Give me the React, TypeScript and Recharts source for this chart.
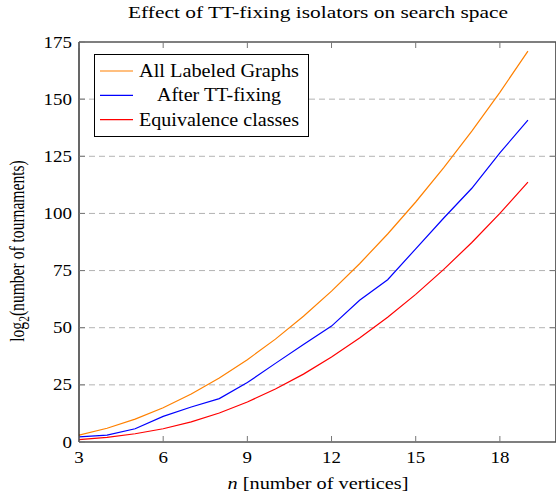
import React from 'react';
import { LineChart, Line, XAxis, YAxis, CartesianGrid, ReferenceLine, Legend } from 'recharts';

// number of vertices
const nValues = [3, 4, 5, 6, 7, 8, 9, 10, 11, 12, 13, 14, 15, 16, 17, 18, 19];
// log2 of tournament counts
const allLabeled = [3, 6, 10, 15, 21, 28, 36, 45, 55, 66, 78, 91, 105, 120, 136, 153, 171];
const afterTT = [2.2, 3, 5.8, 11.2, 15.3, 19, 26, 34.4, 42.7, 50.7, 62, 71, 84.5, 98, 111, 126.5, 140.8];
const equivClasses = [1, 2, 3.6, 5.8, 8.8, 12.7, 17.5, 23.2, 29.7, 37.2, 45.5, 54.6, 64.6, 75.5, 87.3, 100, 113.7];

const xTicks = [3, 6, 9, 12, 15, 18];
const yTicks = [0, 25, 50, 75, 100, 125, 150, 175];

const data = nValues.map((n, i) => ({
  n,
  all: allLabeled[i],
  tt: afterTT[i],
  eq: equivClasses[i],
}));

const W = 556;
const H = 498;
const TOP = 42;
const LEFT = 79;
const BOTTOM = 442;
const RIGHT = 556;
const FONT = '"Liberation Serif", "Times New Roman", serif';

const ORANGE = '#ff8000';
const BLUE = '#0000ff';
const RED = '#ff0000';

const XTick = (props: any) => {
  const { x, y, payload } = props;
  return (
    <g>
      <line x1={x} x2={x} y1={y} y2={y - 6} stroke="#777" />
      <line x1={x} x2={x} y1={TOP} y2={TOP + 6} stroke="#777" />
      <text
        transform={`translate(${x},${y + 21}) scale(1.15,1)`}
        textAnchor="middle"
        fontFamily={FONT}
        fontSize={16.5}
        fill="#000"
      >
        {payload.value}
      </text>
    </g>
  );
};

const YTick = (props: any) => {
  const { x, y, payload } = props;
  return (
    <g>
      <line x1={x} x2={x + 6} y1={y} y2={y} stroke="#777" />
      <line x1={RIGHT - 6} x2={RIGHT} y1={y} y2={y} stroke="#777" />
      <text
        transform={`translate(${x - 7},${y + 5.5}) scale(1.15,1)`}
        textAnchor="end"
        fontFamily={FONT}
        fontSize={16.5}
        fill="#000"
      >
        {payload.value}
      </text>
    </g>
  );
};

const legendItems = [
  { label: 'All Labeled Graphs', color: ORANGE, len: 160 },
  { label: 'After TT-fixing', color: BLUE, len: 124 },
  { label: 'Equivalence classes', color: RED, len: 160 },
];

const LegendBox = () => (
  <svg width={216} height={84} style={{ display: 'block' }}>
    <rect x={0.5} y={0.5} width={214} height={82} fill="#fff" stroke="#000" strokeWidth={1} />
    {legendItems.map((it, i) => {
      const cy = 17 + i * 24.3;
      return (
        <g key={it.label}>
          <line x1={6} x2={39} y1={cy} y2={cy} stroke={it.color} strokeWidth={1.2} />
          <text
            x={125}
            y={cy + 6}
            textAnchor="middle"
            fontFamily={FONT}
            fontSize={19}
            textLength={it.len}
            lengthAdjust="spacingAndGlyphs"
            fill="#000"
          >
            {it.label}
          </text>
        </g>
      );
    })}
  </svg>
);

const YLabel = () => (
  <text
    transform="translate(24,251) rotate(-90) scale(1,1.3)"
    textAnchor="middle"
    fontFamily={FONT}
    fontSize={15.6}
    fill="#000"
  >
    log
    <tspan fontSize={11.5} dy={4}>2</tspan>
    <tspan dy={-4}>(number of tournaments)</tspan>
  </text>
);

const XLabel = () => (
  <text
    x={318}
    y={489}
    textAnchor="middle"
    fontFamily={FONT}
    fontSize={17.5}
    textLength={181}
    lengthAdjust="spacingAndGlyphs"
    fill="#000"
  >
    <tspan fontStyle="italic">n</tspan> [number of vertices]
  </text>
);

export default function App() {
  return (
    <div style={{ position: 'absolute', left: 0, top: 0, width: W, height: H, background: '#fff' }}>
      <LineChart
        width={W}
        height={H}
        data={data}
        margin={{ top: TOP, right: W - RIGHT, bottom: 0, left: 0 }}
      >
        <CartesianGrid
          horizontal
          vertical={false}
          stroke="#b3b3b3"
          strokeDasharray="6 4"
          horizontalValues={[25, 50, 75, 100, 125, 150]}
        />
        <XAxis
          dataKey="n"
          type="number"
          domain={[3, 20]}
          ticks={xTicks}
          height={H - BOTTOM}
          tickSize={0}
          tickMargin={0}
          tickLine={false}
          axisLine={{ stroke: '#000', strokeWidth: 1.2 }}
          tick={<XTick />}
          interval={0}
          allowDataOverflow
          label={<XLabel />}
        />
        <YAxis
          type="number"
          domain={[0, 175]}
          ticks={yTicks}
          width={LEFT}
          tickSize={0}
          tickMargin={0}
          tickLine={false}
          axisLine={{ stroke: '#000', strokeWidth: 1.2 }}
          tick={<YTick />}
          interval={0}
          allowDataOverflow
          label={<YLabel />}
        />
        <ReferenceLine y={175} stroke="#000" strokeWidth={1.2} />
        <ReferenceLine x={20} stroke="#000" strokeWidth={1.2} />
        <Line type="linear" dataKey="all" stroke={ORANGE} strokeWidth={1.2} dot={false} isAnimationActive={false} />
        <Line type="linear" dataKey="tt" stroke={BLUE} strokeWidth={1.2} dot={false} isAnimationActive={false} />
        <Line type="linear" dataKey="eq" stroke={RED} strokeWidth={1.2} dot={false} isAnimationActive={false} />
        <Legend
          layout="vertical"
          align="center"
          verticalAlign="middle"
          content={<LegendBox />}
          wrapperStyle={{ position: 'absolute', left: 94, top: 54, width: 216, height: 84 }}
        />
        <text
          x={318}
          y={18}
          textAnchor="middle"
          fontFamily={FONT}
          fontSize={17.5}
          textLength={380}
          lengthAdjust="spacingAndGlyphs"
          fill="#000"
        >
          Effect of TT-fixing isolators on search space
        </text>
      </LineChart>
    </div>
  );
}
